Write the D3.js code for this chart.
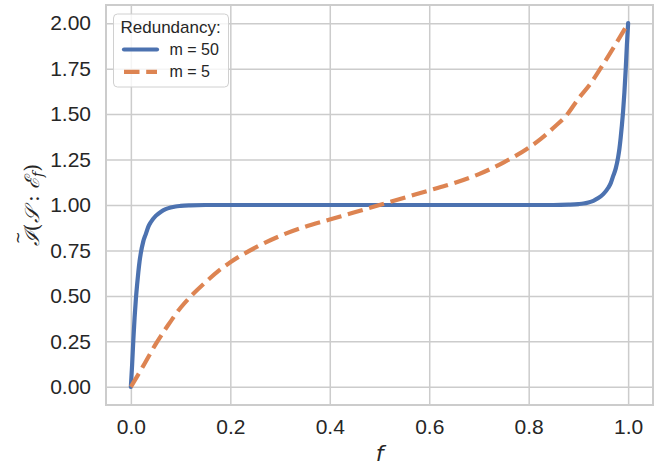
<!DOCTYPE html>
<html>
<head>
<meta charset="utf-8">
<script src="https://cdn.jsdelivr.net/npm/d3@7"></script>
<style>
body { margin: 0; background: #fff; }
text { font-family: "Liberation Sans", Arial, sans-serif; fill: #262626; }
</style>
</head>
<body>
<svg width="662" height="465"></svg>
<script>
// values
var f50 = [0, 0.0025, 0.005, 0.0075, 0.01, 0.0125, 0.015, 0.0175, 0.02, 0.025, 0.03, 0.035, 0.04, 0.05, 0.06, 0.07, 0.08, 0.09, 0.1, 0.12, 0.15, 0.2, 0.3, 0.4, 0.5, 0.6, 0.7, 0.8, 0.85, 0.88, 0.9, 0.91, 0.92, 0.93, 0.94, 0.95, 0.96, 0.965, 0.97, 0.975, 0.98, 0.9825, 0.985, 0.9875, 0.99, 0.9925, 0.995, 0.9975, 1];
var i50 = [0, 0.12, 0.26, 0.38, 0.48, 0.56, 0.63, 0.69, 0.735, 0.8, 0.84, 0.88, 0.905, 0.94, 0.962, 0.977, 0.986, 0.992, 0.995, 0.998, 1, 1, 1, 1, 1, 1, 1, 1, 1, 1.002, 1.005, 1.008, 1.014, 1.023, 1.038, 1.06, 1.095, 1.12, 1.16, 1.2, 1.265, 1.31, 1.37, 1.44, 1.52, 1.62, 1.74, 1.88, 2];

var f5 = [0, 0.025, 0.05, 0.075, 0.1, 0.125, 0.15, 0.175, 0.2, 0.25, 0.3, 0.35, 0.4, 0.45, 0.5, 0.55, 0.6, 0.65, 0.7, 0.75, 0.8, 0.825, 0.85, 0.875, 0.9, 0.925, 0.95, 0.975, 1];
var i5 = [0, 0.115, 0.235, 0.34, 0.435, 0.51, 0.575, 0.635, 0.685, 0.765, 0.83, 0.88, 0.92, 0.96, 1, 1.04, 1.08, 1.12, 1.17, 1.235, 1.315, 1.365, 1.425, 1.49, 1.585, 1.67, 1.775, 1.885, 2];

var xTicks = [0, 0.2, 0.4, 0.6, 0.8, 1.0];
var yTicks = [0, 0.25, 0.5, 0.75, 1.0, 1.25, 1.5, 1.75, 2.0];
var legendTitle = "Redundancy:";
var seriesNames = ["m = 50", "m = 5"];

var svg = d3.select("svg");
var x0 = 106, x1 = 653, y0 = 5, y1 = 405;

var x = d3.scaleLinear().domain([-0.05, 1.05]).range([x0, x1]);
var y = d3.scaleLinear().domain([-0.1, 2.1]).range([y1, y0]);

var grid = "#cccccc";

// y grid + labels
var gy = svg.append("g")
  .attr("transform", "translate(" + x0 + ",0)")
  .call(d3.axisLeft(y).tickValues(yTicks).tickSize(-(x1 - x0)).tickPadding(15)
    .tickFormat(d3.format(".2f")));
gy.select(".domain").remove();
gy.selectAll("line").attr("stroke", grid).attr("stroke-width", 1.5);
gy.selectAll("text").style("font-size", "21px").attr("fill", "#262626");

// x grid + labels
var gx = svg.append("g")
  .attr("transform", "translate(0," + y1 + ")")
  .call(d3.axisBottom(x).tickValues(xTicks).tickSize(-(y1 - y0)).tickPadding(14)
    .tickFormat(d3.format(".1f")));
gx.select(".domain").remove();
gx.selectAll("line").attr("stroke", grid).attr("stroke-width", 1.5);
gx.selectAll("text").style("font-size", "21px").attr("fill", "#262626");

// frame
svg.append("rect")
  .attr("x", x0).attr("y", y0)
  .attr("width", x1 - x0).attr("height", y1 - y0)
  .attr("fill", "none").attr("stroke", grid).attr("stroke-width", 2);

var line = d3.line()
  .x(function(d) { return x(d[0]); })
  .y(function(d) { return y(d[1]); })
  .curve(d3.curveMonotoneX);

svg.append("path")
  .datum(f50.map(function(v, i) { return [v, i50[i]]; }))
  .attr("d", line)
  .attr("fill", "none").attr("stroke", "#4c72b0").attr("stroke-width", 4.2)
  .attr("stroke-linecap", "round").attr("stroke-linejoin", "round");

svg.append("path")
  .datum(f5.map(function(v, i) { return [v, i5[i]]; }))
  .attr("d", line)
  .attr("fill", "none").attr("stroke", "#dd8452").attr("stroke-width", 4.2)
  .attr("stroke-dasharray", "15.5,6.7");

// axis titles
svg.append("text")
  .attr("x", (x0 + x1) / 2).attr("y", 461)
  .attr("text-anchor", "middle")
  .style("font-family", "DejaVu Sans").style("font-style", "italic").style("font-size", "22px")
  .text("f");

var yl = svg.append("g").attr("transform", "translate(39," + ((y0 + y1) / 2) + ") rotate(-90)");
var ylab = yl.append("text")
  .attr("text-anchor", "middle")
  .style("font-family", "DejaVu Serif").style("font-size", "20px");
ylab.append("tspan").style("font-style", "italic").text("\u2110");
ylab.append("tspan").text("(");
ylab.append("tspan").style("font-style", "italic").text("\uD835\uDCAE");
ylab.append("tspan").text(" : ");
ylab.append("tspan").style("font-style", "italic").text("\u2130");
ylab.append("tspan").attr("dy", 4).style("font-size", "14px").style("font-style", "italic").text("f");
ylab.append("tspan").attr("dy", -4).text(")");
var ext = ylab.node().getExtentOfChar(0);
yl.append("text")
  .attr("x", ext.x + ext.width / 2 + 1).attr("y", ext.y + 3)
  .attr("text-anchor", "middle")
  .style("font-family", "DejaVu Sans").style("font-size", "15px")
  .text("~");

// legend
var lg = svg.append("g");
lg.append("rect")
  .attr("x", 113.5).attr("y", 14).attr("width", 115).attr("height", 73).attr("rx", 4)
  .attr("fill", "#fff").attr("fill-opacity", 0.8).attr("stroke", "#d0d0d0").attr("stroke-width", 1);
lg.append("text").attr("x", 120.5).attr("y", 32.5).style("font-size", "17px").text(legendTitle);
var styles = [{c: "#4c72b0", dash: null}, {c: "#dd8452", dash: "15.5,6.7"}];
seriesNames.forEach(function(name, i) {
  var ly = 49.5 + i * 22.3;
  lg.append("line")
    .attr("x1", 124).attr("x2", 157).attr("y1", ly).attr("y2", ly)
    .attr("stroke", styles[i].c).attr("stroke-width", 4.2)
    .attr("stroke-linecap", styles[i].dash ? "butt" : "round")
    .attr("stroke-dasharray", styles[i].dash);
  lg.append("text").attr("x", 169.5).attr("y", ly + 5.6).style("font-size", "16px").text(name);
});
</script>
</body>
</html>
